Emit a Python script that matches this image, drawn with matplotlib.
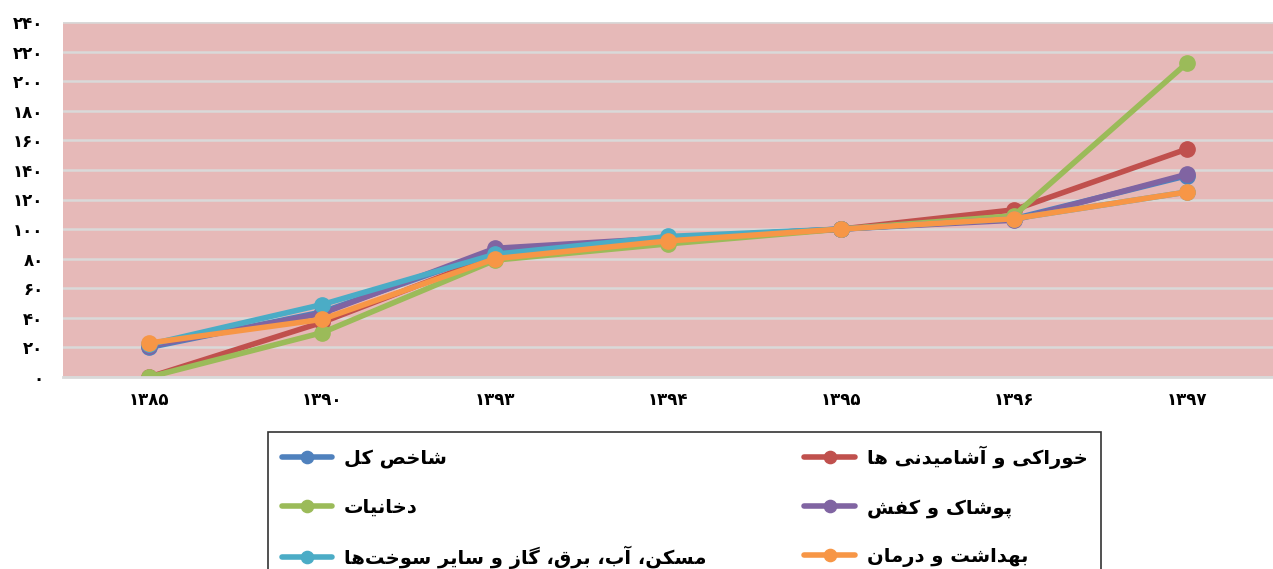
import matplotlib
matplotlib.use('Agg')
import matplotlib.pyplot as plt

plt.rcParams['font.family'] = ['DejaVu Sans']

years = ['1385', '1390', '1393', '1394', '1395', '1396', '1397']
series_names = ['شاخص کل', 'خوراکی و آشامیدنی ها', 'دخانیات', 'پوشاک و کفش',
                'مسکن، آب، برق، گاز و سایر سوخت‌ها', 'بهداشت و درمان']
total = [20, 44, 85, 94, 100, 107, 136]
food = [0, 37, 82, 92, 100, 113, 154]
tobacco = [0, 30, 79, 90, 100, 109, 212]
clothing = [21, 43, 87, 94, 100, 106, 137]
housing = [22, 49, 83, 95, 100, 107, 125]
health = [23, 39, 80, 92, 100, 107, 125]
colors = ['#4F81BD', '#C0504D', '#9BBB59', '#8064A2', '#4BACC6', '#F79646']
yticks = list(range(0, 241, 20))

# --- tiny persian shaper (no arabic_reshaper in sandbox) ---
FORMS = {
    'ا': (0xFE8D, 0xFE8E, None, None), 'آ': (0xFE81, 0xFE82, None, None),
    'ب': (0xFE8F, 0xFE90, 0xFE91, 0xFE92), 'پ': (0xFB56, 0xFB57, 0xFB58, 0xFB59),
    'ت': (0xFE95, 0xFE96, 0xFE97, 0xFE98), 'خ': (0xFEA5, 0xFEA6, 0xFEA7, 0xFEA8),
    'د': (0xFEA9, 0xFEAA, None, None), 'ر': (0xFEAD, 0xFEAE, None, None),
    'ز': (0xFEAF, 0xFEB0, None, None), 'س': (0xFEB1, 0xFEB2, 0xFEB3, 0xFEB4),
    'ش': (0xFEB5, 0xFEB6, 0xFEB7, 0xFEB8), 'ص': (0xFEB9, 0xFEBA, 0xFEBB, 0xFEBC),
    'ف': (0xFED1, 0xFED2, 0xFED3, 0xFED4), 'ق': (0xFED5, 0xFED6, 0xFED7, 0xFED8),
    'ک': (0xFB8E, 0xFB8F, 0xFB90, 0xFB91), 'گ': (0xFB92, 0xFB93, 0xFB94, 0xFB95),
    'ل': (0xFEDD, 0xFEDE, 0xFEDF, 0xFEE0), 'م': (0xFEE1, 0xFEE2, 0xFEE3, 0xFEE4),
    'ن': (0xFEE5, 0xFEE6, 0xFEE7, 0xFEE8), 'ه': (0xFEE9, 0xFEEA, 0xFEEB, 0xFEEC),
    'و': (0xFEED, 0xFEEE, None, None), 'ی': (0xFBFC, 0xFBFD, 0xFBFE, 0xFBFF),
}


def shape(text):
    out = []
    for i, ch in enumerate(text):
        if ch not in FORMS:
            out.append('' if ch == '\u200c' else ch)
            continue
        prev = text[i - 1] if i > 0 else ''
        nxt = text[i + 1] if i + 1 < len(text) else ''
        join_prev = prev in FORMS and FORMS[prev][2] is not None
        join_next = nxt in FORMS and FORMS[ch][2] is not None
        iso, fin, ini, med = FORMS[ch]
        if join_prev and join_next:
            code = med
        elif join_prev:
            code = fin
        elif join_next:
            code = ini
        else:
            code = iso
        out.append(chr(code))
    return ''.join(out)[::-1]


def fa_digits(s):
    return ''.join(chr(0x06F0 + int(c)) if c.isdigit() else c for c in str(s))


fig = plt.figure(figsize=(12.73, 5.69), dpi=100)
ax = fig.add_axes([63 / 1273, 1 - 377 / 569, 1 - 63 / 1273, (377 - 22) / 569])
ax.set_facecolor('#E6B9B8')

x = list(range(len(years)))
all_series = [total, food, tobacco, clothing, housing, health]
lines = []
for vals, c, name in zip(all_series, colors, series_names):
    ln, = ax.plot(x, vals, color=c, lw=4, marker='o', markersize=11,
                  solid_capstyle='round', label=shape(name))
    lines.append(ln)

ax.set_xlim(-0.5, len(years) - 0.5)
ax.set_ylim(0, 240)
ax.set_yticks(yticks)
ax.set_yticklabels([fa_digits(v) for v in yticks], fontsize=12, fontweight='bold')
ax.set_xticks(x)
ax.set_xticklabels([fa_digits(y) for y in years], fontsize=12, fontweight='bold')
ax.yaxis.grid(True, color='#D9D9D9', lw=1.8)
ax.set_axisbelow(True)
for s in ['top', 'right', 'left']:
    ax.spines[s].set_visible(False)
ax.spines['bottom'].set_color('#D9D9D9')
ax.spines['bottom'].set_linewidth(2)
ax.tick_params(length=0, pad=10)
ax.tick_params(axis='y', pad=14)

order = [0, 2, 4, 1, 3, 5]
leg = fig.legend([lines[i] for i in order], [lines[i].get_label() for i in order],
                 loc='upper left',
                 bbox_to_anchor=(268 / 1273, 0, 833 / 1273, 1 - 432 / 569),
                 mode='expand', borderaxespad=0, ncol=2,
                 prop={'weight': 'bold', 'size': 14},
                 frameon=True, fancybox=False, edgecolor='black',
                 handlelength=2.6, handletextpad=0.6, columnspacing=1.8,
                 labelspacing=1.5, borderpad=0.7, markerscale=0.8)
leg.get_frame().set_linewidth(1.2)

fig.savefig('out.png', dpi=100)
